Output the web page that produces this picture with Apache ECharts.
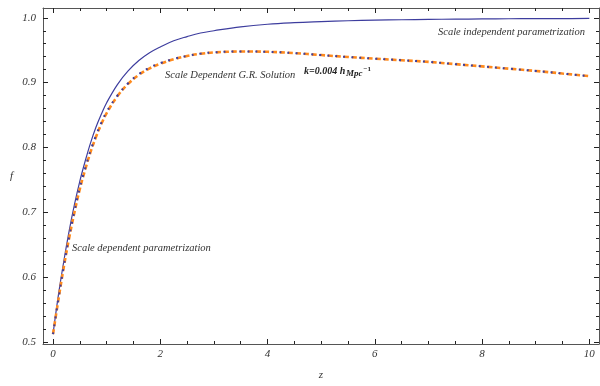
<!DOCTYPE html>
<html><head><meta charset="utf-8">
<script src="https://cdn.jsdelivr.net/npm/echarts@6/dist/echarts.min.js"></script>
<style>html,body{margin:0;padding:0;background:#fff}#c{width:600px;height:386px}</style>
</head><body><div id="c"></div>
<script>
const zValues = [0,0.1,0.2,0.3,0.4,0.5,0.6,0.7,0.8,0.9,1.0,1.2,1.4,1.6,1.8,2.0,2.25,2.5,2.75,3.0,3.5,4.0,4.5,5.0,5.5,6.0,6.5,7.0,7.5,8.0,8.5,9.0,9.5,10.0];
const fScaleIndependent = [0.512,0.572,0.624,0.671,0.712,0.748,0.779,0.807,0.831,0.851,0.869,0.897,0.918,0.934,0.946,0.955,0.9645,0.971,0.9765,0.980,0.986,0.990,0.9924,0.994,0.9954,0.9963,0.997,0.9975,0.9979,0.9982,0.9985,0.9987,0.9988,0.999];
const fGRSolution = [0.512,0.565,0.615,0.660,0.700,0.736,0.766,0.793,0.816,0.836,0.853,0.879,0.898,0.912,0.922,0.929,0.936,0.941,0.9445,0.9465,0.948,0.9475,0.9455,0.9425,0.9395,0.937,0.9345,0.932,0.9285,0.925,0.9215,0.918,0.914,0.910];
const fScaleDependent = [0.512,0.566,0.617,0.662,0.702,0.738,0.768,0.795,0.818,0.838,0.855,0.880,0.899,0.913,0.923,0.930,0.9365,0.9412,0.9447,0.9467,0.948,0.9475,0.9455,0.9425,0.9395,0.937,0.9345,0.932,0.9285,0.925,0.9215,0.918,0.914,0.910];
const xMajorTicks = [0,2,4,6,8,10];
const xMinorTicks = [0,0.5,1,1.5,2,2.5,3,3.5,4,4.5,5,5.5,6,6.5,7,7.5,8,8.5,9,9.5,10];
const yMajorTicks = [0.5,0.6,0.7,0.8,0.9,1.0];
const yMinorTicks = [0.5,0.52,0.54,0.56,0.58,0.6,0.62,0.64,0.66,0.68,0.7,0.72,0.74,0.76,0.78,0.8,0.82,0.84,0.86,0.88,0.9,0.92,0.94,0.96,0.98,1.0];

const FRAME = '#555';
const FONT = '"Liberation Serif", "Times New Roman", serif';
const X_MIN = -0.187, X_MAX = 10.18, Y_MIN = 0.4967, Y_MAX = 1.0151;

function axis(kind, pos, line, ticks, len, labels, extra) {
  const a = {
    type: 'value', position: pos, min: kind === 'x' ? X_MIN : Y_MIN, max: kind === 'x' ? X_MAX : Y_MAX,
    axisLine: { show: line, onZero: false, lineStyle: { color: FRAME, width: 1 } },
    axisTick: { show: true, inside: true, length: len, customValues: ticks, lineStyle: { color: '#222', width: 1 } },
    axisLabel: labels ? {
      show: true, customValues: labels, fontFamily: FONT, fontStyle: 'italic', fontSize: 11, color: '#333',
      margin: kind === 'x' ? 5 : 7,
      formatter: kind === 'x' ? (v => String(Math.round(v))) : (v => v.toFixed(1))
    } : { show: false },
    splitLine: { show: false }
  };
  return Object.assign(a, extra || {});
}

const chart = echarts.init(document.getElementById('c'));
chart.setOption({
  animation: false,
  backgroundColor: '#fff',
  grid: { left: 43, right: 1, top: 8, bottom: 34 },
  xAxis: [
    axis('x', 'bottom', true, xMajorTicks, 5, xMajorTicks, { name: 'z', nameLocation: 'middle', nameGap: 26, nameTextStyle: { fontFamily: FONT, fontStyle: 'italic', fontSize: 11, color: '#333' } }),
    axis('x', 'bottom', false, xMinorTicks, 3, null),
    axis('x', 'top', true, xMajorTicks, 5, null),
    axis('x', 'top', false, xMinorTicks, 3, null)
  ],
  yAxis: [
    axis('y', 'left', true, yMajorTicks, 5, yMajorTicks, { name: 'f', nameLocation: 'middle', nameGap: 30, nameRotate: 0, nameTextStyle: { fontFamily: FONT, fontStyle: 'italic', fontSize: 11, color: '#333' } }),
    axis('y', 'left', false, yMinorTicks, 3, null),
    axis('y', 'right', true, yMajorTicks, 5, null),
    axis('y', 'right', false, yMinorTicks, 3, null)
  ],
  series: [
    { type: 'line', name: 'Scale independent parametrization', xAxisIndex: 0, yAxisIndex: 0, showSymbol: false, smooth: 0.4,
      data: zValues.map((z, i) => [z, fScaleIndependent[i]]),
      lineStyle: { color: '#3d3d9e', width: 1.2 } },
    { type: 'line', name: 'Scale Dependent G.R. Solution', xAxisIndex: 0, yAxisIndex: 0, showSymbol: false, smooth: 0.4,
      data: zValues.map((z, i) => [z, fGRSolution[i]]),
      lineStyle: { color: '#ff8a1c', width: 2.6, type: [5, 3] } },
    { type: 'line', name: 'Scale dependent parametrization', xAxisIndex: 0, yAxisIndex: 0, showSymbol: false, smooth: 0.4,
      data: zValues.map((z, i) => [z, fScaleDependent[i]]),
      lineStyle: { color: '#3d3d9e', width: 2, type: [2, 6], cap: 'butt' } }
  ],
  graphic: [
    { type: 'text', x: 438, y: 32, style: { text: 'Scale independent parametrization', font: 'italic 10.5px ' + FONT, fill: '#333', verticalAlign: 'middle' } },
    { type: 'text', x: 165, y: 75, style: { text: 'Scale Dependent G.R. Solution', font: 'italic 10.5px ' + FONT, fill: '#333', verticalAlign: 'middle' } },
    { type: 'text', x: 304, y: 71, style: { text: 'k=0.004 h', font: 'italic bold 10px ' + FONT, fill: '#222', verticalAlign: 'middle' } },
    { type: 'text', x: 346, y: 73.5, style: { text: 'Mpc', font: 'italic bold 9px ' + FONT, fill: '#222', verticalAlign: 'middle' } },
    { type: 'text', x: 363.5, y: 69.5, style: { text: '\u22121', font: 'bold 7px ' + FONT, fill: '#222', verticalAlign: 'middle' } },
    { type: 'text', x: 72, y: 248, style: { text: 'Scale dependent parametrization', font: 'italic 10.5px ' + FONT, fill: '#333', verticalAlign: 'middle' } }
  ]
});
</script>
</body></html>
